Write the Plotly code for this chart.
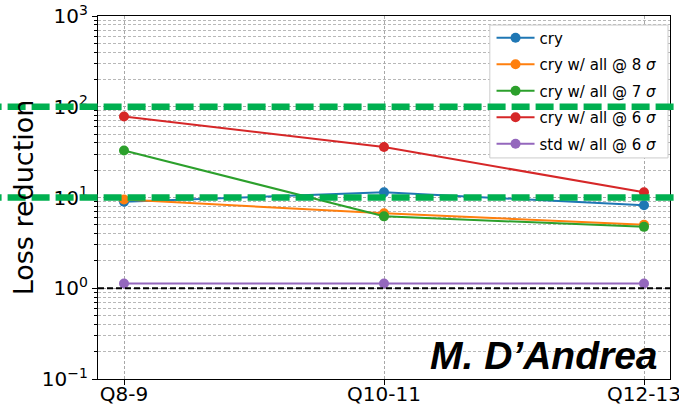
import math
import plotly.graph_objects as go

categories = ["Q8-9", "Q10-11", "Q12-13"]
cry = [9.0, 11.4, 8.2]
cry_8s = [9.5, 6.7, 5.0]
cry_7s = [33.0, 6.2, 4.75]
cry_6s = [78.0, 36.0, 11.4]
std_6s = [1.13, 1.13, 1.13]

series = [
    ("cry", cry, "#1f77b4"),
    ("cry w/ all @ 8 <i>σ</i>", cry_8s, "#ff7f0e"),
    ("cry w/ all @ 7 <i>σ</i>", cry_7s, "#2ca02c"),
    ("cry w/ all @ 6 <i>σ</i>", cry_6s, "#d62728"),
    ("std w/ all @ 6 <i>σ</i>", std_6s, "#9467bd"),
]

y_tickvals = [0.1, 1, 10, 100, 1000]
y_ticktext = ["10<sup>−1</sup>", "10<sup>0</sup>", "10<sup>1</sup>", "10<sup>2</sup>", "10<sup>3</sup>"]
minor_vals = [m * 10.0 ** e for e in range(-1, 3) for m in range(2, 10)]
green_levels = [100, 10]
ref_level = 1
y_log_range = [-1, 3]

fig = go.Figure()
for i, (name, vals, col) in enumerate(series):
    fig.add_trace(go.Scatter(
        x=categories, y=vals, name=name, mode="lines+markers",
        line=dict(color=col, width=2), marker=dict(color=col, size=10),
        legendgroup=f"g{i}",
    ))

shapes = []
# legend background (drawn under the green lines)
shapes.append(dict(type="rect", xref="paper", yref="paper", x0=0.685, x1=0.9965, y0=0.609, y1=0.975,
                   fillcolor="white", line=dict(color="#cccccc", width=1), layer="above"))
for lv in green_levels:
    py = (math.log10(lv) - y_log_range[0]) / (y_log_range[1] - y_log_range[0])
    shapes.append(dict(type="line", xref="paper", yref="paper", x0=-0.2, x1=1.05, y0=py, y1=py,
                       line=dict(color="#00b050", width=6.5, dash="18px,6px"), layer="above"))
shapes.append(dict(type="line", xref="paper", yref="y", x0=0, x1=1, y0=ref_level, y1=ref_level,
                   line=dict(color="black", width=2, dash="6px,3px"), layer="above"))

fig.update_layout(
    width=679, height=409,
    margin=dict(l=98, r=9, t=16, b=30),
    paper_bgcolor="white", plot_bgcolor="white",
    font=dict(family="DejaVu Sans", size=20, color="black"),
    showlegend=True,
    legend=dict(x=0.688, y=0.985, xanchor="left", yanchor="top",
                bgcolor="rgba(0,0,0,0)", borderwidth=0, itemwidth=38,
                font=dict(size=15), tracegroupgap=4),
    shapes=shapes,
    annotations=[dict(text="<b><i>M. D’Andrea</i></b>", xref="paper", yref="paper",
                      x=0.983, y=0.065, xanchor="right", yanchor="middle", showarrow=False,
                      font=dict(family="Liberation Sans", size=39, color="black"))],
)
grid_col = "#a8a8a8"
fig.update_xaxes(type="category", range=[-0.1, 2.1], showline=True, linecolor="black", linewidth=1.2,
                 mirror=True, ticks="outside", ticklen=5, tickcolor="black", automargin=False,
                 showgrid=True, gridcolor=grid_col, gridwidth=1, griddash="3px,2px",
                 tickfont=dict(size=20), ticklabelstandoff=-8)
fig.update_yaxes(type="log", range=y_log_range, showline=True, linecolor="black", linewidth=1.2,
                 mirror=True, ticks="outside", ticklen=5, tickcolor="black", automargin=False,
                 tickmode="array", tickvals=y_tickvals, ticktext=y_ticktext,
                 showgrid=True, gridcolor=grid_col, gridwidth=1, griddash="3px,2px",
                 minor=dict(tickmode="array", tickvals=minor_vals, ticks="outside", ticklen=3,
                            tickcolor="black", showgrid=True, gridcolor="#b8b8b8", gridwidth=0.8,
                            griddash="3px,2px"),
                 title=dict(text="Loss reduction", font=dict(size=27), standoff=0),
                 tickfont=dict(size=20), zeroline=False)

fig.write_html("out.html")
